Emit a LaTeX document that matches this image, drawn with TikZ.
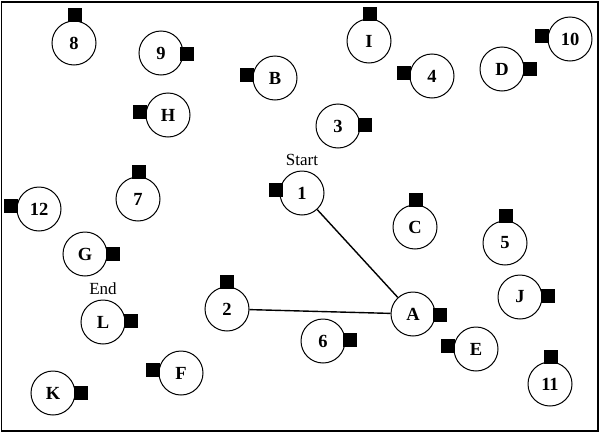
\documentclass[tikz,border=0pt]{standalone}
\usepackage{fontspec}
\setmainfont{Liberation Serif}
\usetikzlibrary{calc}
\def\station[#1](#2)(#3)#4{\node[stop] (n#1) at (#2) {#4}; \node[blob] (m#1) at (#3) {};}

\begin{document}
\begin{tikzpicture}[x=1pt, y=-1pt,
	stop/.style={circle, draw, line width=1pt, minimum size=44pt, inner sep=0pt, font=\fontsize{18.5}{18.5}\selectfont\bfseries},
	blob/.style={fill=black, minimum size=14pt, inner sep=0pt},
	tag/.style={font=\fontsize{17}{17}\selectfont}]
			%%%%% START %%%%%
			
			\useasboundingbox (0, 0) rectangle (600, 434);
			\draw[line width=1.2pt] (1.5, 2) rectangle (598, 431);
			
			\station[8](74, 43)(75, 15){8}
			\station[9](161, 53)(187, 54){9}
			\station[B](275, 78)(247, 75){B}
			\station[H](168, 115)(140, 112){H}
			\station[7](138, 199)(139, 172){7}
			\station[12](39, 209)(11, 206){12}
			\station[1](302, 193)(276, 190){1}
			\station[I](369, 41)(370, 14){I}
			\station[4](432, 76)(404, 73){4}
			\station[D](502, 69)(530, 69){D}
			\station[10](570, 39)(542, 36){10}
			\station[3](338, 126)(365, 125){3}
			\station[C](415, 227)(416, 200){C}
			\station[5](505, 243)(506, 216){5}
			\station[G](85, 254)(113, 254){G}
			\station[L](103, 322)(131, 321){L}
			\station[2](227, 309)(227, 282){2}
			\station[F](181, 373)(153, 370){F}
			\station[K](53, 393)(81, 393){K}
			\station[J](520, 297)(548, 296){J}
			\station[A](413, 314)(440, 315){A}
			\station[6](323, 341)(350, 340){6}
			\station[E](476, 349)(448, 346){E}
			\station[11](550, 384)(551, 357){11}
			
			\node[tag] (start) at (302, 160) {Start};
			\node[tag] (end) at (103, 289) {End};
			
			\draw[line width=1.4pt] (n1) -- (nA);
			\draw[line width=1.4pt] (n2) -- (nA);
			
			%%%%% END %%%%%
\end{tikzpicture}
\end{document}
